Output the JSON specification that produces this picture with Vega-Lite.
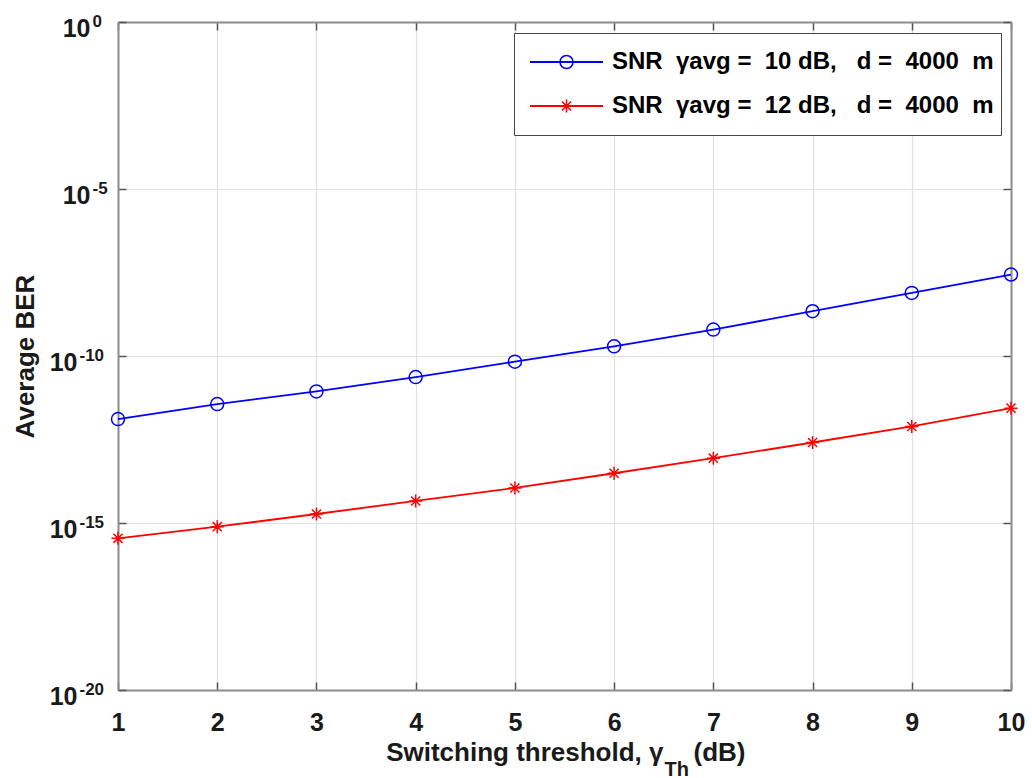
{
  "$schema": "https://vega.github.io/schema/vega-lite/v6.json",
  "width": 893,
  "height": 668,
  "autosize": {"type": "none"},
  "padding": {"left": 118, "top": 22, "right": 21, "bottom": 88},
  "background": "white",
  "config": {
    "view": {"stroke": null},
    "font": "Liberation Sans",
    "axis": {
      "labelFont": "Liberation Sans",
      "labelFontWeight": "bold",
      "labelColor": "#1a1a1a",
      "titleFont": "Liberation Sans",
      "titleFontWeight": "bold",
      "titleColor": "#1a1a1a",
      "domainColor": "#8c8c8c",
      "domainWidth": 2,
      "tickColor": "#555555",
      "tickWidth": 1.5,
      "gridColor": "#e0e0e0",
      "gridWidth": 1.2,
      "labelFlush": false,
      "labelOverlap": false
    }
  },
  "data": {
    "values": [
      {"x": 1, "ber": 1.29e-12, "series": "s10", "snr": 10},
      {"x": 2, "ber": 3.63e-12, "series": "s10", "snr": 10},
      {"x": 3, "ber": 8.7e-12, "series": "s10", "snr": 10},
      {"x": 4, "ber": 2.34e-11, "series": "s10", "snr": 10},
      {"x": 5, "ber": 6.76e-11, "series": "s10", "snr": 10},
      {"x": 6, "ber": 1.95e-10, "series": "s10", "snr": 10},
      {"x": 7, "ber": 6.17e-10, "series": "s10", "snr": 10},
      {"x": 8, "ber": 2.19e-9, "series": "s10", "snr": 10},
      {"x": 9, "ber": 7.76e-9, "series": "s10", "snr": 10},
      {"x": 10, "ber": 2.75e-8, "series": "s10", "snr": 10},
      {"x": 1, "ber": 3.47e-16, "series": "s12", "snr": 12},
      {"x": 2, "ber": 7.76e-16, "series": "s12", "snr": 12},
      {"x": 3, "ber": 1.86e-15, "series": "s12", "snr": 12},
      {"x": 4, "ber": 4.57e-15, "series": "s12", "snr": 12},
      {"x": 5, "ber": 1.12e-14, "series": "s12", "snr": 12},
      {"x": 6, "ber": 3.09e-14, "series": "s12", "snr": 12},
      {"x": 7, "ber": 8.71e-14, "series": "s12", "snr": 12},
      {"x": 8, "ber": 2.57e-13, "series": "s12", "snr": 12},
      {"x": 9, "ber": 7.76e-13, "series": "s12", "snr": 12},
      {"x": 10, "ber": 2.75e-12, "series": "s12", "snr": 12}
    ]
  },
  "layer": [
    {
      "mark": {"type": "line", "strokeWidth": 1.8},
      "encoding": {
        "x": {
          "field": "x", "type": "quantitative",
          "scale": {"domain": [1, 10], "nice": false, "zero": false},
          "axis": {
            "orient": "bottom", "values": [1, 2, 3, 4, 5, 6, 7, 8, 9, 10], "format": "d",
            "tickSize": -8, "labelPadding": 48, "labelBaseline": "alphabetic", "labelFontSize": 25,
            "grid": true,
            "title": "Switching threshold, γ", "titleFontSize": 26, "titleAlign": "right",
            "titleX": 545, "titleY": 70, "titleBaseline": "alphabetic"
          }
        },
        "y": {
          "field": "ber", "type": "quantitative",
          "scale": {"type": "log", "domain": [1e-20, 1], "nice": false},
          "axis": {
            "orient": "left", "values": [1e-20, 1e-15, 1e-10, 1e-5, 1],
            "tickSize": -8, "labels": false, "grid": true,
            "title": "Average BER", "titleFontSize": 26, "titleX": -85, "titleY": 334,
            "titleAngle": 270, "titleAlign": "center", "titleBaseline": "alphabetic"
          }
        },
        "color": {
          "field": "series", "type": "nominal",
          "scale": {"domain": ["s10", "s12"], "range": ["#0000ff", "#ff0000"]},
          "legend": {
            "orient": "none", "legendX": 396, "legendY": 11, "direction": "vertical",
            "title": null, "padding": 7, "clipHeight": 44, "rowPadding": 0,
            "symbolType": "stroke", "symbolSize": 5329, "symbolStrokeWidth": 1.8, "symbolOffset": 8,
            "labelOffset": 8,
            "labelExpr": "datum.value == 's10' ? 'SNR\u00a0\u00a0γavg =\u00a0\u00a010 dB,\u00a0\u00a0\u00a0d =\u00a0\u00a04000\u00a0\u00a0m' : 'SNR\u00a0\u00a0γavg =\u00a0\u00a012 dB,\u00a0\u00a0\u00a0d =\u00a0\u00a04000\u00a0\u00a0m'",
            "labelFont": "Liberation Sans", "labelFontSize": 24, "labelFontWeight": "bold",
            "labelColor": "#000000", "labelLimit": 700,
            "strokeColor": "#444444", "fillColor": "#ffffff"
          }
        }
      }
    },
    {
      "mark": {"type": "point", "filled": false, "strokeWidth": 1.5, "size": 169, "opacity": 1},
      "encoding": {
        "x": {"field": "x", "type": "quantitative", "axis": null},
        "y": {"field": "ber", "type": "quantitative", "scale": {"type": "log"}, "axis": null},
        "stroke": {
          "field": "snr", "type": "nominal",
          "scale": {"domain": [10, 12], "range": ["#0000ff", "#ff0000"]},
          "legend": {
            "orient": "none", "legendX": 396, "legendY": 11, "direction": "vertical",
            "title": null, "padding": 7, "clipHeight": 44, "rowPadding": 0,
            "symbolSize": 169, "symbolOffset": 38, "symbolStrokeWidth": 1.5, "symbolFillColor": "transparent",
            "labelExpr": "''", "labelOffset": 0
          }
        },
        "shape": {
          "field": "snr", "type": "nominal",
          "scale": {"domain": [10, 12], "range": ["circle", "M0,-1L0,1M-1,0L1,0M-0.7,-0.7L0.7,0.7M-0.7,0.7L0.7,-0.7"]},
          "legend": {
            "orient": "none", "legendX": 396, "legendY": 11, "direction": "vertical",
            "title": null, "padding": 7, "clipHeight": 44, "rowPadding": 0,
            "symbolSize": 169, "symbolOffset": 38, "symbolStrokeWidth": 1.5, "symbolFillColor": "transparent",
            "labelExpr": "''", "labelOffset": 0
          }
        }
      }
    },
    {
      "mark": {"type": "point", "opacity": 0},
      "encoding": {
        "x": {"field": "x", "type": "quantitative",
          "axis": {"orient": "top", "values": [1, 2, 3, 4, 5, 6, 7, 8, 9, 10], "labels": false, "tickSize": -8, "grid": false, "title": null}},
        "y": {"field": "ber", "type": "quantitative", "scale": {"type": "log"},
          "axis": {"orient": "right", "values": [1e-20, 1e-15, 1e-10, 1e-5, 1], "labels": false, "tickSize": -8, "grid": false, "title": null}}
      }
    },
    {
      "mark": {"type": "point", "opacity": 0},
      "encoding": {
        "x": {"field": "x", "type": "quantitative",
          "axis": {"orient": "bottom", "labels": false, "ticks": false, "domain": false, "grid": false,
            "title": "Th", "titleFontSize": 20, "titleAlign": "left", "titleX": 546, "titleY": 85, "titleBaseline": "alphabetic"}},
        "y": {"field": "ber", "type": "quantitative", "scale": {"type": "log"},
          "axis": {"orient": "left", "values": [1e-20, 1e-15, 1e-10], "labelExpr": "'10'",
            "ticks": false, "domain": false, "grid": false, "labelPadding": 41, "labelAlign": "right",
            "labelBaseline": "alphabetic", "labelOffset": 14, "labelFontSize": 25, "title": null}}
      }
    },
    {
      "mark": {"type": "point", "opacity": 0},
      "encoding": {
        "x": {"field": "x", "type": "quantitative",
          "axis": {"orient": "bottom", "labels": false, "ticks": false, "domain": false, "grid": false,
            "title": "(dB)", "titleFontSize": 26, "titleAlign": "left", "titleX": 575, "titleY": 70, "titleBaseline": "alphabetic"}},
        "y": {"field": "ber", "type": "quantitative", "scale": {"type": "log"},
          "axis": {"orient": "left", "values": [1e-5, 1], "labelExpr": "'10'",
            "ticks": false, "domain": false, "grid": false, "labelPadding": 28, "labelAlign": "right",
            "labelBaseline": "alphabetic", "labelOffset": 14, "labelFontSize": 25, "title": null}}
      }
    },
    {
      "mark": {"type": "point", "opacity": 0},
      "encoding": {
        "x": {"field": "x", "type": "quantitative", "axis": null},
        "y": {"field": "ber", "type": "quantitative", "scale": {"type": "log"},
          "axis": {"orient": "left", "values": [1e-20, 1e-15, 1e-10],
            "labelExpr": "datum.value == 1e-10 ? '-10' : datum.value == 1e-15 ? '-15' : '-20'",
            "ticks": false, "domain": false, "grid": false, "labelPadding": 39, "labelAlign": "left",
            "labelBaseline": "alphabetic", "labelOffset": 4, "labelFontSize": 17, "title": null}}
      }
    },
    {
      "mark": {"type": "point", "opacity": 0},
      "encoding": {
        "x": {"field": "x", "type": "quantitative", "axis": null},
        "y": {"field": "ber", "type": "quantitative", "scale": {"type": "log"},
          "axis": {"orient": "left", "values": [1e-5, 1],
            "labelExpr": "datum.value == 1 ? '0' : '-5'",
            "ticks": false, "domain": false, "grid": false, "labelPadding": 26, "labelAlign": "left",
            "labelBaseline": "alphabetic", "labelOffset": 4, "labelFontSize": 17, "title": null}}
      }
    }
  ],
  "resolve": {"axis": {"x": "independent", "y": "independent"}}
}
